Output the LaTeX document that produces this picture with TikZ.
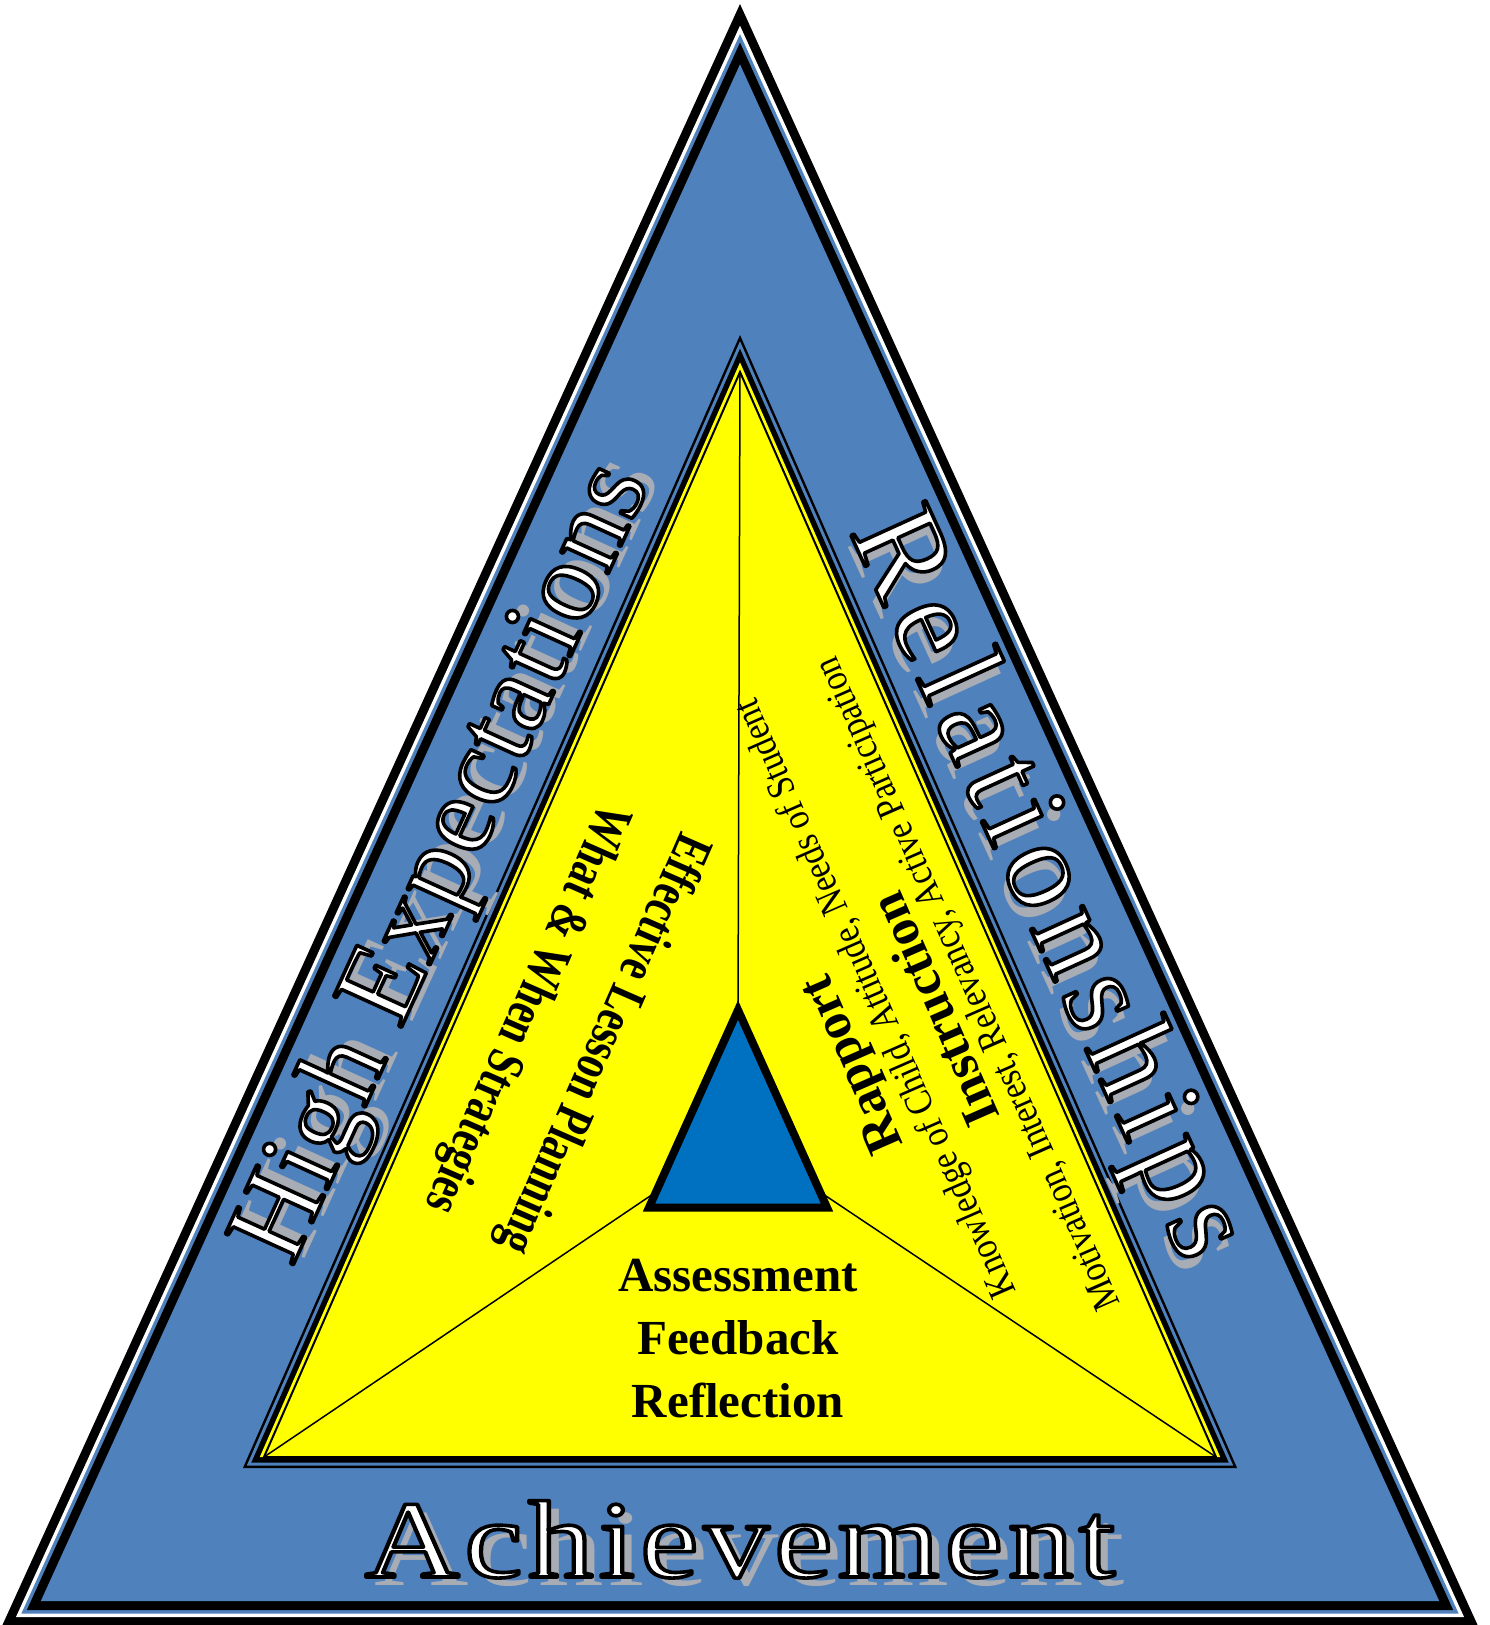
\documentclass[tikz,border=0pt]{standalone}
\usepackage{fontspec}
\usepackage{graphicx}
\setmainfont{Liberation Serif}
\newfontfamily\hefont[LetterSpace=1]{Liberation Serif}
\newfontfamily\relfont[LetterSpace=8]{Liberation Serif}
\newfontfamily\achfont[LetterSpace=4]{Liberation Serif}
\definecolor{frameblue}{RGB}{79,129,189}
\definecolor{coreblue}{RGB}{0,112,192}
\definecolor{shadowgray}{RGB}{168,172,180}
\definecolor{pyellow}{RGB}{255,255,0}

% inset triangle: apex x, apex y, base y, slope dx/dy, inset, colour
\newcommand{\insettri}[6]{%
 \pgfmathsetmacro{\insTy}{#2+#5*sqrt(1+#4*#4)/#4}%
 \pgfmathsetmacro{\insBy}{#3-#5}%
 \pgfmathsetmacro{\insHw}{#4*(\insBy-\insTy)}%
 \fill[#6] (#1,\insTy) -- ({#1-\insHw},\insBy) -- ({#1+\insHw},\insBy) -- cycle;}

% white text with black outline (PDF text render mode 2)
\newcommand{\outlinetext}[1]{\special{pdf:literal direct 2 Tr 0 G 1.8 w 1 j}#1\special{pdf:literal direct 0 Tr}}

% outlined white word with grey shadow: name, position, angle, font, xscale, anchor, text
\newcommand{\bigword}[7]{%
 \begin{scope}[shift={#2},rotate=#3]
  \node[rotate=#3,text=shadowgray,font=#4,inner sep=0,anchor=#6] at (5pt,-4pt) {\scalebox{#5}[1]{#7}};
  \node[rotate=#3,text=white,font=#4,inner sep=0,anchor=#6] (#1) at (0,0) {\scalebox{#5}[1]{\outlinetext{#7}}};
 \end{scope}}

\tikzset{
 innertxt/.style={inner sep=0,text=black},
 boldbig/.style={font=\bfseries\fontsize{26}{30}\selectfont},
 boldmid/.style={font=\bfseries\fontsize{27}{32}\selectfont},
 smalltxt/.style={font=\fontsize{19.5}{23}\selectfont},
 centretxt/.style={font=\bfseries\fontsize{24.5}{30}\selectfont, inner sep=0, anchor=base},
 thinline/.style={line width=0.75pt, black},
}

\begin{document}
\begin{tikzpicture}[x=0.5pt,y=-0.5pt]
\useasboundingbox (0,0) rectangle (1489,1625);
\fill[white] (0,0) rectangle (1489,1625);

% outer frame
\insettri{740}{4}{1626}{0.455}{0}{black}
\insettri{740}{4}{1626}{0.455}{9}{white}
\insettri{740}{4}{1626}{0.455}{12.5}{frameblue}
\insettri{740}{4}{1626}{0.455}{16}{black}
\insettri{740}{4}{1626}{0.455}{25}{frameblue}

% inner frame
\insettri{740}{335}{1468}{0.4387}{0}{black}
\insettri{740}{335}{1468}{0.4387}{2.5}{frameblue}
\insettri{740}{335}{1468}{0.4387}{5.5}{black}
\insettri{740}{335}{1468}{0.4387}{11}{pyellow}

% inner yellow triangle
\coordinate (ta) at (740,372);
\coordinate (tl) at (264,1457);
\coordinate (tr) at (1216,1457);
\draw[line width=1pt, fill=pyellow, line join=miter] (ta) -- (tl) -- (tr) -- cycle;

% core triangle and spokes
\coordinate (sa) at (738,1010);
\coordinate (sl) at (649,1207.5);
\coordinate (sr) at (827,1207.5);
\coordinate (lj) at (656,1192);
\coordinate (rj) at (820,1192);
\draw[thinline] (ta) -- (sa);
\draw[thinline] (tl) -- (lj);
\draw[thinline] (tr) -- (rj);
\draw[line width=4pt, line join=miter, fill=coreblue] (sa) -- (sl) -- (sr) -- cycle;

% big outlined words
\bigword{hiexp}{(446,864)}{65.5}{\hefont\fontsize{57}{64}\selectfont}{1}{center}{High Expectations}
\bigword{relat}{(1044,886)}{-65.5}{\relfont\fontsize{63}{70}\selectfont}{1}{center}{Relationships}
\bigword{achie}{(740,1577)}{0}{\achfont\fontsize{55}{60}\selectfont}{1.19}{base}{Achievement}

% left texts
\node[innertxt, boldmid, rotate=-113.7] (elp) at (602,1043) {\scalebox{0.76}[1]{Effective Lesson Planning}};
\node[innertxt, boldmid, rotate=-113.7] (wws) at (525,1008) {\scalebox{0.76}[1]{What \& When Strategies}};

% right texts
\node[innertxt, boldbig, rotate=113.7] (rap) at (855,1063) {Rapport};
\node[innertxt, smalltxt, rotate=113.7] (know) at (877,998) {\scalebox{0.86}[1]{Knowledge of Child, Attitude, Needs of Student}};
\node[innertxt, boldbig, rotate=113.7] (inst) at (934,1010) {Instruction};
\node[innertxt, smalltxt, rotate=113.7] (moti) at (970,983) {\scalebox{0.86}[1]{Motivation, Interest, Relevancy, Active Participation}};

% centre texts
\node[centretxt] (assess) at (738,1291) {Assessment};
\node[centretxt] (feed) at (738,1354) {Feedback};
\node[centretxt] (refl) at (738,1417) {Reflection};
\end{tikzpicture}
\end{document}
